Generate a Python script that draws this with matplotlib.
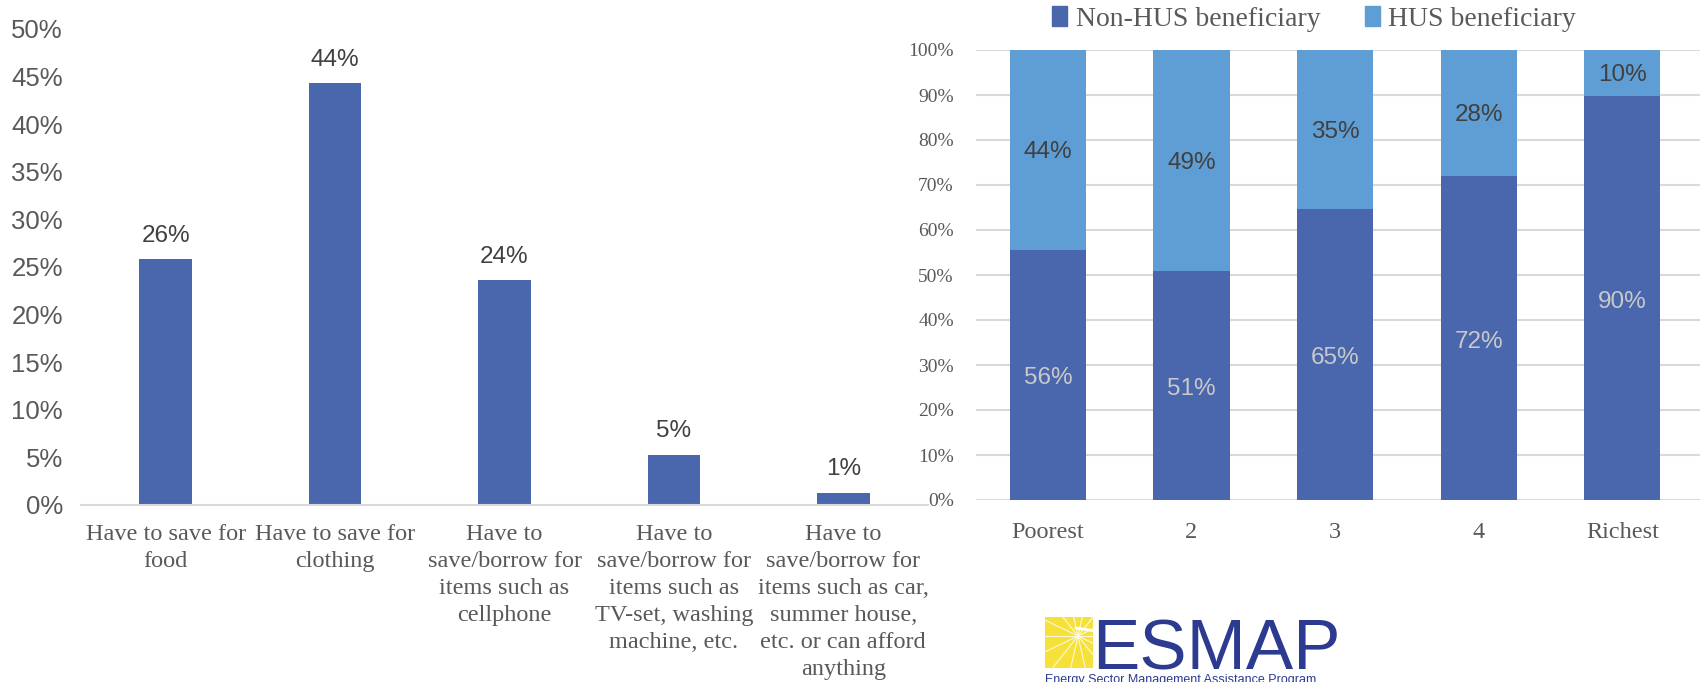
import numpy as np
import matplotlib
matplotlib.use("Agg")
import matplotlib.pyplot as plt
from matplotlib.patches import Rectangle, Patch

# left chart data
save_labels = ["Have to save for\nfood",
               "Have to save for\nclothing",
               "Have to\nsave/borrow for\nitems such as\ncellphone",
               "Have to\nsave/borrow for\nitems such as\nTV-set, washing\nmachine, etc.",
               "Have to\nsave/borrow for\nitems such as car,\nsummer house,\netc. or can afford\nanything"]
save_shares = [0.258, 0.443, 0.236, 0.053, 0.013]

# right chart data
quintiles = ["Poorest", "2", "3", "4", "Richest"]
non_hus = [0.556, 0.508, 0.646, 0.719, 0.898]
hus = [0.444, 0.492, 0.354, 0.281, 0.102]

DARK = "#4a66ac"
LIGHT = "#5f9ed4"
GREY = "#595959"
SANS = "Liberation Sans"
SERIF = "Liberation Serif"

W, H = 1700, 682
fig = plt.figure(figsize=(17, 6.82), dpi=100)


def box(x0, y0, x1, y1):
    # pixel box (top-left origin) -> figure fraction
    return [x0 / W, 1 - y1 / H, (x1 - x0) / W, (y1 - y0) / H]


# ---- left chart ----
ax1 = fig.add_axes(box(81, 29, 928, 505))
x = np.arange(len(save_labels))
ax1.bar(x, save_shares, width=0.31, color=DARK)
for xi, v in zip(x, save_shares):
    ax1.text(xi, v + 0.013, f"{v:.0%}", ha="center", va="bottom",
             fontsize=17.5, family=SANS, color="#404040")
ax1.set_xlim(-0.5, 4.5)
ax1.set_ylim(0, 0.5)
ax1.set_yticks(np.arange(0, 0.51, 0.05))
ax1.set_yticklabels([f"{t:.0%}" for t in np.arange(0, 0.51, 0.05)])
ax1.set_xticks(x)
ax1.set_xticklabels(save_labels, family=SERIF, fontsize=17.5, color=GREY,
                    linespacing=1.37, va="top")
for lab in ax1.get_yticklabels():
    lab.set_family(SANS)
    lab.set_fontsize(18.5)
    lab.set_color(GREY)
ax1.tick_params(length=0)
ax1.tick_params(axis="x", pad=14)
ax1.tick_params(axis="y", pad=13)
for s in ["top", "right", "left"]:
    ax1.spines[s].set_visible(False)
ax1.spines["bottom"].set_color("#d9d9d9")
ax1.spines["bottom"].set_linewidth(1.5)

# ---- right chart ----
ax2 = fig.add_axes(box(976, 50, 1700, 500))
q = np.arange(len(quintiles))
ax2.bar(q, non_hus, width=0.53, color=DARK, zorder=2)
ax2.bar(q, hus, width=0.53, bottom=non_hus, color=LIGHT, zorder=2)
for qi, a, b in zip(q, non_hus, hus):
    ax2.text(qi, a / 2 - 0.008, f"{a:.0%}", ha="center", va="center",
             fontsize=17.5, family=SANS, color="#c9c9c9", zorder=3)
    ax2.text(qi, a + b / 2 - 0.005, f"{b:.0%}", ha="center", va="center",
             fontsize=17.5, family=SANS, color="#404040", zorder=3)
ax2.set_xlim(-0.5, 4.54)
ax2.set_ylim(0, 1)
ax2.set_yticks(np.arange(0, 1.01, 0.1))
ax2.set_yticklabels([f"{t:.0%}" for t in np.arange(0, 1.01, 0.1)],
                    family=SERIF, fontsize=14, color=GREY)
ax2.set_xticks(q)
ax2.set_xticklabels(quintiles, family=SERIF, fontsize=17.5, color=GREY)
ax2.yaxis.grid(True, color="#d9d9d9", linewidth=1.5, zorder=0)
ax2.set_axisbelow(True)
ax2.tick_params(length=0)
ax2.tick_params(axis="x", pad=16)
ax2.tick_params(axis="y", pad=16)
for s in ax2.spines.values():
    s.set_visible(False)

handles = [Patch(color=DARK, label="Non-HUS beneficiary"),
           Patch(color=LIGHT, label="HUS beneficiary")]
fig.legend(handles=handles, loc="center", bbox_to_anchor=(1314 / W, 1 - 19 / H),
           ncol=2, frameon=False, prop={"family": SERIF, "size": 20},
           handlelength=0.55, handleheight=0.7, handletextpad=0.3,
           columnspacing=1.6, labelcolor=GREY)

# ---- ESMAP logo ----
lg = fig.add_axes(box(1040, 605, 1345, 682))
lg.set_xlim(1040, 1345)
lg.set_ylim(682, 605)
lg.axis("off")
NAVY = "#2c3b90"
square = Rectangle((1045, 617), 48, 51, color="#f6e13a", lw=0)
lg.add_patch(square)
cx, cy = 1078, 636
for ang in np.linspace(0, 2 * np.pi, 14, endpoint=False):
    ray, = lg.plot([cx, cx + 40 * np.cos(ang)], [cy, cy + 40 * np.sin(ang)],
                   color="white", lw=0.8, alpha=0.8)
    ray.set_clip_path(square)
lg.text(1092, 669, "ESMAP", fontsize=51, family=SANS, color=NAVY,
        ha="left", va="baseline")
t = np.linspace(0, 1, 60)
lg.plot(1076 + 256 * t, 628 + 40 * t - 26 * t ** 2, color="white", lw=2.0)
lg.text(1045, 674, "Energy Sector Management Assistance Program",
        fontsize=9, family=SANS, color=NAVY, ha="left", va="top")

fig.savefig("out.png", dpi=100)
